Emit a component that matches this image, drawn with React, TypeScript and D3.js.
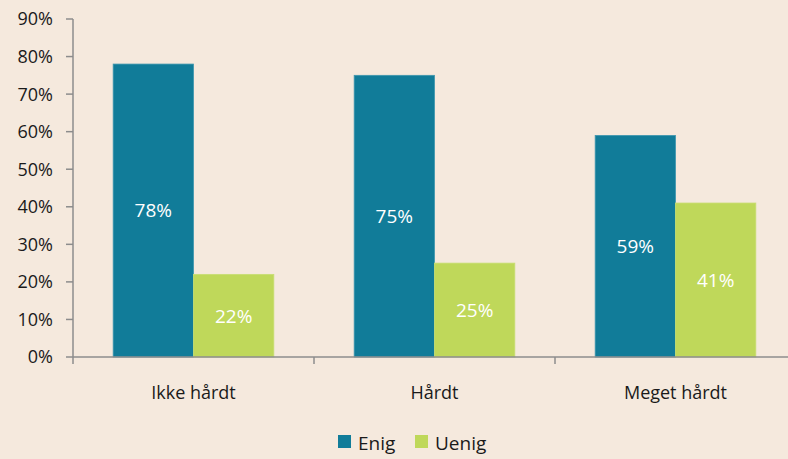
import React from "react";
import * as d3 from "d3";

const categories = ["Ikke hårdt", "Hårdt", "Meget hårdt"];
const seriesNames = ["Enig", "Uenig"];
const enig = [78, 75, 59];
const uenig = [22, 25, 41];
const yTicks = [0, 10, 20, 30, 40, 50, 60, 70, 80, 90];
const colors = ["#117c99", "#bfd85a"];

const W = 788;
const H = 459;
const left = 73;
const right = 796;
const top = 19;
const bottom = 357;
const font = "'Open Sans', 'DejaVu Sans', sans-serif";

export default function App() {
  const x = d3.scaleBand<string>().domain(categories).range([left, right]).paddingInner(0).paddingOuter(0);
  const inner = d3.scaleBand<string>().domain(seriesNames).range([0, x.bandwidth()]).paddingOuter(0.5).paddingInner(0);
  const y = d3.scaleLinear().domain([0, 90]).range([bottom, top]);
  const series = [enig, uenig];
  const axisColor = "#8c8c8c";
  return (
    <svg width={W} height={H} style={{ position: "absolute", left: 0, top: 0, background: "#f5e9dd" }}>
      <rect x={0} y={0} width={W} height={H} fill="#f5e9dd" />
      {categories.map((c, i) =>
        series.map((s, j) => {
          const bx = (x(c) as number) + (inner(seriesNames[j]) as number);
          const bw = inner.bandwidth();
          const by = y(s[i]);
          return (
            <g key={c + j}>
              <rect x={bx} y={by} width={bw} height={bottom - by} fill={colors[j]} stroke={j === 0 ? "#3f97ae" : "#c8de72"} strokeWidth={0.8} />
              <text x={bx + bw / 2} y={(by + bottom) / 2} dy="0.36em" textAnchor="middle" fill="#ffffff" fontFamily={font} fontSize={19}>
                {s[i]}%
              </text>
            </g>
          );
        })
      )}
      <line x1={left} x2={left} y1={top} y2={bottom + 7} stroke={axisColor} strokeWidth={1.5} />
      {yTicks.map((t) => (
        <g key={t}>
          <line x1={left - 7} x2={left} y1={y(t)} y2={y(t)} stroke={axisColor} strokeWidth={1.5} />
          <text x={53} y={y(t)} dy="0.36em" textAnchor="end" fontFamily={font} fontSize={18} fill="#1a1a1a">
            {t}%
          </text>
        </g>
      ))}
      <line x1={left} x2={W} y1={bottom} y2={bottom} stroke={axisColor} strokeWidth={1.5} />
      {categories.map((c, i) => (
        <g key={c}>
          {i > 0 && <line x1={x(c)} x2={x(c)} y1={bottom} y2={bottom + 7} stroke={axisColor} strokeWidth={1.5} />}
          <text x={(x(c) as number) + x.bandwidth() / 2} y={393} dy="0.36em" textAnchor="middle" fontFamily={font} fontSize={18} fill="#1a1a1a">
            {c}
          </text>
        </g>
      ))}
      {seriesNames.map((n, j) => {
        const lx = j === 0 ? 338 : 415;
        return (
          <g key={n}>
            <rect x={lx} y={435} width={13} height={13} fill={colors[j]} />
            <text x={lx + 20} y={443} dy="0.36em" fontFamily={font} fontSize={19} fill="#1a1a1a">
              {n}
            </text>
          </g>
        );
      })}
    </svg>
  );
}
